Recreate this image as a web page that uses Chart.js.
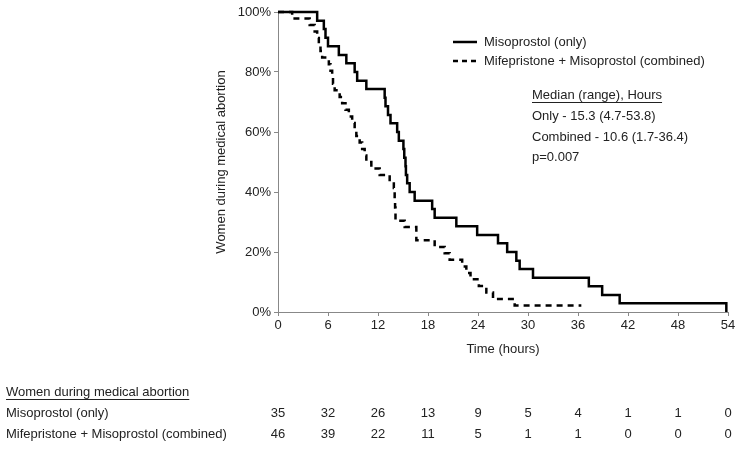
<!DOCTYPE html>
<html><head><meta charset="utf-8">
<script src="https://cdn.jsdelivr.net/npm/chart.js@4"></script>
<style>html,body{margin:0;padding:0;background:#fff;}canvas{display:block;}</style>
</head><body>
<canvas id="c" width="749" height="451"></canvas>
<script>
// ---- data ----
const seriesNames = ['Misoprostol (only)', 'Mifepristone + Misoprostol (combined)'];
const misoTimes = [0,4.7,5.5,5.7,6.0,7.3,8.2,9.2,9.5,10.6,12.8,12.9,13.2,13.5,14.3,14.5,15.05,15.15,15.3,15.35,15.5,15.8,16.4,18.5,18.8,21.4,23.9,26.4,27.5,28.6,29.0,30.6,37.3,38.9,41.0,53.8];
const misoSurv  = [100,97.1,94.3,91.4,88.6,85.7,82.9,80.0,77.1,74.3,71.4,68.6,65.7,62.9,60.0,57.1,54.3,51.4,48.6,45.7,42.9,40.0,37.1,34.3,31.4,28.6,25.7,22.9,20.0,17.1,14.3,11.4,8.6,5.7,2.9,0];
const combTimes = [0,1.7,3.8,4.4,4.7,4.9,5.1,5.3,6.1,6.3,6.5,6.6,6.8,7.4,7.7,8.1,8.5,8.9,9.2,9.4,9.8,10.1,10.4,10.6,11.2,12.2,13.4,13.9,14.0,14.0,14.05,14.1,14.1,15.2,16.6,16.6,18.8,20.0,20.6,22.1,22.6,23.1,24.1,25.0,25.8,28.4,36.4];
const combSurv  = [100,97.8,95.7,93.5,91.3,89.1,87.0,84.8,82.6,80.4,78.3,76.1,73.9,71.7,69.6,67.4,65.2,63.0,60.9,58.7,56.5,54.3,52.2,50.0,47.8,45.7,43.5,41.3,39.1,37.0,34.8,32.6,30.4,28.3,26.1,23.9,21.7,19.6,17.4,15.2,13.0,10.9,8.7,6.5,4.3,2.2,2.2];
const xTicks = [0,6,12,18,24,30,36,42,48,54];
const yTicks = [0,20,40,60,80,100];
const riskMiso = [35,32,26,13,9,5,4,1,1,0];
const riskComb = [46,39,22,11,5,1,1,0,0,0];
const tableTitle = 'Women during medical abortion';
const yTitle = 'Women during medical abortion';
const xTitle = 'Time (hours)';
const medianLines = ['Median (range), Hours','Only - 15.3 (4.7-53.8)','Combined - 10.6 (1.7-36.4)','p=0.007'];

const FONT_FAMILY = '"Liberation Sans", Arial, sans-serif';
const TXT = '#222';
Chart.defaults.font.family = FONT_FAMILY;
Chart.defaults.font.size = 13;
Chart.defaults.color = TXT;

const toPts = (ts, vs) => ts.map((t, i) => ({x: t, y: vs[i]}));

function underline(ctx, text, x, y) {
  const w = ctx.measureText(text).width;
  ctx.save();
  ctx.strokeStyle = TXT; ctx.lineWidth = 1;
  ctx.beginPath(); ctx.moveTo(x, y + 7.5); ctx.lineTo(x + w, y + 7.5); ctx.stroke();
  ctx.restore();
}

const extras = {
  id: 'extras',
  afterDraw(chart) {
    const ctx = chart.ctx, xs = chart.scales.x;
    ctx.save();
    ctx.font = '13px ' + FONT_FAMILY;
    ctx.fillStyle = TXT;
    ctx.textBaseline = 'middle';
    // legend
    ctx.strokeStyle = '#000'; ctx.lineWidth = 2.5;
    ctx.beginPath(); ctx.moveTo(453, 42); ctx.lineTo(477, 42); ctx.stroke();
    ctx.setLineDash([5, 4]);
    ctx.beginPath(); ctx.moveTo(453, 61); ctx.lineTo(477, 61); ctx.stroke();
    ctx.setLineDash([]);
    ctx.textAlign = 'left';
    ctx.fillText(seriesNames[0], 484, 42);
    ctx.fillText(seriesNames[1], 484, 61);
    // median block
    const my = [95, 116, 137, 157];
    medianLines.forEach((s, i) => ctx.fillText(s, 532, my[i]));
    underline(ctx, medianLines[0], 532, my[0]);
    // risk table
    ctx.fillText(tableTitle, 6, 392);
    underline(ctx, tableTitle, 6, 392);
    ctx.fillText(seriesNames[0], 6, 413);
    ctx.fillText(seriesNames[1], 6, 434);
    ctx.textAlign = 'center';
    xTicks.forEach((t, i) => {
      const px = xs.getPixelForValue(t);
      ctx.fillText(String(riskMiso[i]), px, 413);
      ctx.fillText(String(riskComb[i]), px, 434);
    });
    ctx.restore();
  }
};

new Chart(document.getElementById('c'), {
  type: 'line',
  data: {
    datasets: [
      {label: seriesNames[0], data: toPts(misoTimes, misoSurv), borderColor: '#000', borderWidth: 2.5,
       stepped: 'before', pointRadius: 0, fill: false, clip: false, borderCapStyle: 'butt', borderJoinStyle: 'miter'},
      {label: seriesNames[1], data: toPts(combTimes, combSurv), borderColor: '#000', borderWidth: 2.5,
       borderDash: [6, 5], stepped: 'before', pointRadius: 0, fill: false, clip: false, borderCapStyle: 'butt', borderJoinStyle: 'miter'}
    ]
  },
  options: {
    responsive: false,
    animation: false,
    layout: {padding: {left: 210, right: 21, top: 12, bottom: 89}},
    plugins: {legend: {display: false}, tooltip: {enabled: false}},
    scales: {
      x: {
        type: 'linear', min: 0, max: 54,
        afterBuildTicks: s => { s.ticks = xTicks.map(v => ({value: v})); },
        afterFit: s => { s.height = 50; },
        ticks: {padding: 2, color: TXT, font: {size: 13}},
        grid: {display: true, drawOnChartArea: false, drawTicks: true, tickLength: 4, color: '#888'},
        border: {display: true, color: '#888', width: 1},
        title: {display: true, text: xTitle, color: TXT, font: {size: 13}, padding: {top: 4, bottom: 5}}
      },
      y: {
        min: 0, max: 100,
        afterBuildTicks: s => { s.ticks = yTicks.map(v => ({value: v})); },
        afterFit: s => { s.width = 68; },
        ticks: {padding: 3, color: TXT, font: {size: 13}, callback: v => v + '%'},
        grid: {display: true, drawOnChartArea: false, drawTicks: true, tickLength: 4, color: '#888'},
        border: {display: true, color: '#888', width: 1},
        title: {display: true, text: yTitle, color: TXT, font: {size: 13}, padding: {top: 4, bottom: 4}}
      }
    }
  },
  plugins: [extras]
});
</script>
</body></html>
